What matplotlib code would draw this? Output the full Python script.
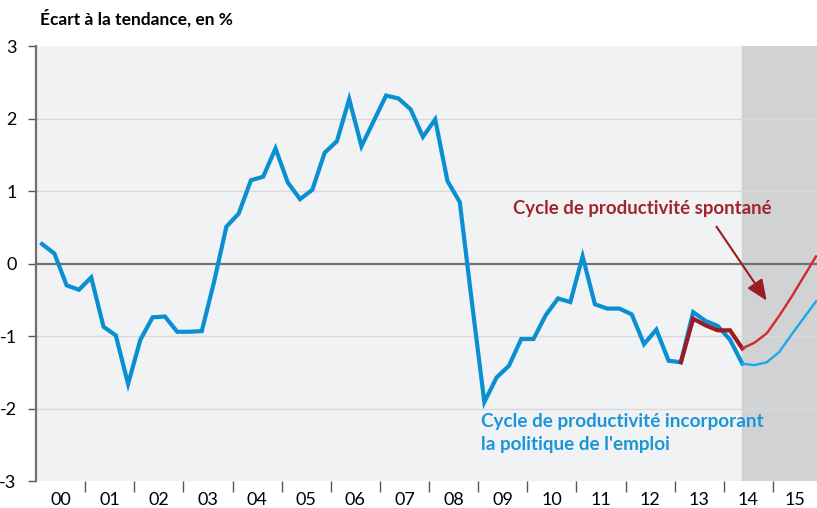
import matplotlib
matplotlib.use("Agg")
import matplotlib.pyplot as plt

plt.rcParams['font.family'] = ['Lato', 'DejaVu Sans']

# Quarterly values, 2000 Q1 to 2015 Q4 (ecart a la tendance, en %)
start_year = 2000
blue_vals = [0.27, 0.14, -0.30, -0.36, -0.19, -0.87, -0.99, -1.66,
             -1.05, -0.74, -0.73, -0.94, -0.94, -0.93, -0.25, 0.51,
             0.69, 1.15, 1.20, 1.59, 1.12, 0.89, 1.02, 1.53,
             1.69, 2.27, 1.62, 1.97, 2.32, 2.28, 2.13, 1.75,
             1.99, 1.14, 0.85, -0.55, -1.91, -1.57, -1.41, -1.04,
             -1.04, -0.71, -0.48, -0.53, 0.10, -0.56, -0.62, -0.62,
             -0.70, -1.11, -0.91, -1.34, -1.36, -0.67, -0.79, -0.86,
             -1.05, -1.38, -1.40, -1.36, -1.22, -0.98, -0.75, -0.52]
# red scenario starts at 2013 Q1 (index 52)
red_start = 52
red_vals = [-1.36, -0.76, -0.85, -0.92, -0.92, -1.17,
            -1.09, -0.96, -0.72, -0.46, -0.18, 0.10]
forecast_start = 57  # 2014 Q2
year_labels = ['00', '01', '02', '03', '04', '05', '06', '07',
               '08', '09', '10', '11', '12', '13', '14', '15']

x_blue = [start_year + (i + 0.5) / 4 for i in range(len(blue_vals))]
x_red = [start_year + (red_start + i + 0.5) / 4 for i in range(len(red_vals))]
f_red = forecast_start - red_start

fig = plt.figure(figsize=(8.17, 5.08), dpi=100)
ax = fig.add_axes([0.044, 0.053, 0.956, 0.856])
ax.set_facecolor('#f1f2f4')

xmax = x_blue[-1] + 0.02
ax.set_xlim(start_year, xmax)
ax.set_ylim(-3, 3)

ax.axvspan(x_blue[forecast_start], xmax, color='#d1d2d4', zorder=0)
for y in [-2, -1, 1, 2]:
    ax.axhline(y, color='#d9d9db', lw=1, zorder=1)
ax.axhline(0, color='#707070', lw=1.6, zorder=2)

# blue: history thick, projection thin
ax.plot(x_blue[:forecast_start + 1], blue_vals[:forecast_start + 1],
        color='#0a8fd2', lw=3.0, solid_joinstyle='miter', zorder=3)
ax.plot(x_blue[forecast_start:], blue_vals[forecast_start:],
        color='#1aa9e6', lw=1.7, zorder=3)
# red
ax.plot(x_red[:f_red + 1], red_vals[:f_red + 1],
        color='#9a1b22', lw=3.0, solid_joinstyle='miter', zorder=4)
ax.plot(x_red[f_red:], red_vals[f_red:],
        color='#d3282e', lw=1.7, zorder=4)

for s in ['top', 'right', 'bottom']:
    ax.spines[s].set_visible(False)
ax.spines['left'].set_color('#707070')
ax.spines['left'].set_linewidth(1.6)

ax.set_yticks(range(-3, 4))
ax.set_yticklabels([str(v) for v in range(-3, 4)], fontsize=13)
ax.tick_params(axis='y', length=6, width=1, color='#555555', pad=8)

# year boundaries as major ticks, labels at year centres as minor ticks
ax.set_xticks([start_year + k for k in range(1, 16)])
ax.set_xticklabels([])
ax.tick_params(axis='x', which='major', length=8, width=1, color='#555555')
label_pos = [start_year + k + 0.5 for k in range(15)] + [(2015 + xmax) / 2]
ax.set_xticks(label_pos, minor=True)
ax.set_xticklabels(year_labels, minor=True, fontsize=13)
ax.tick_params(axis='x', which='minor', length=0, pad=8)

fig.text(0.049, 0.965, 'Écart à la tendance, en %', fontsize=12.5,
         fontweight='bold', va='center', ha='left')

ax.annotate('', xy=(2014.87, -0.51), xytext=(2013.85, 0.51),
            arrowprops=dict(arrowstyle='-|>,head_length=0.7,head_width=0.3',
                            color='#9a1b22', lw=1.5,
                            mutation_scale=18, shrinkA=0, shrinkB=0))
ax.text(2009.7, 0.76, 'Cycle de productivité spontané', color='#a0262c',
        fontsize=13.4, fontweight='bold', va='center', ha='left')
ax.text(2009.05, -2.18, 'Cycle de productivité incorporant',
        color='#1a96d8', fontsize=13.6, fontweight='bold', va='center', ha='left')
ax.text(2009.05, -2.5, 'la politique de l\'emploi',
        color='#1a96d8', fontsize=13.6, fontweight='bold', va='center', ha='left')

fig.savefig('out.png', dpi=100)
